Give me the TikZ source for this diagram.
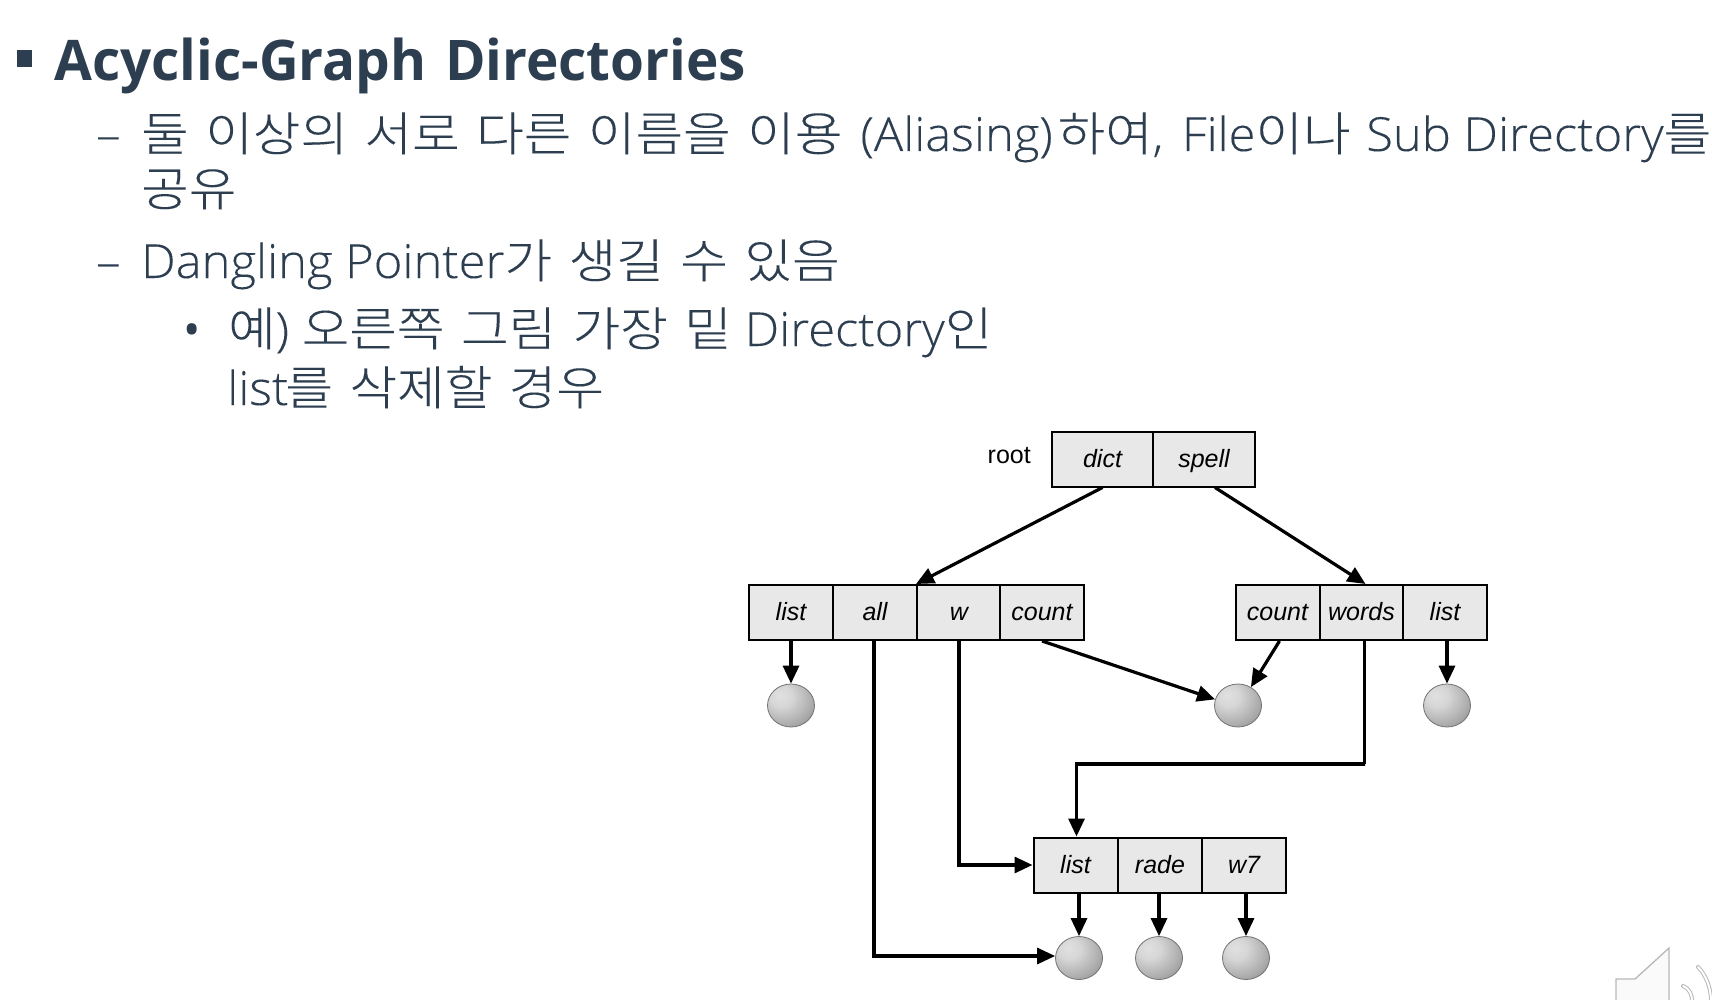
\documentclass[tikz,border=0pt]{standalone}
\usepackage{fontspec}
\usetikzlibrary{arrows.meta,shapes.geometric}
\setmainfont{Liberation Sans}
\newfontfamily\headlat[FakeStretch=0.98,WordSpace=1.3]{Open Sans}
\newfontfamily\bodylat[FakeStretch=1.04,FakeBold=0.15]{Open Sans Light}
\newfontfamily\bodykr[FakeStretch=1.1,WordSpace=1.45,FakeBold=0.15]{Noto Sans CJK KR Light}
\definecolor{slate}{HTML}{2C3E50}
\newcommand{\kr}[1]{{\bodykr #1}}
\pgfdeclareradialshading{fileshade}{\pgfpoint{-12bp}{12bp}}{%
  color(0bp)=(black!12); color(12bp)=(black!16); color(30bp)=(black!32); color(50bp)=(black!52); color(100bp)=(black!58)}
\begin{document}
\begin{tikzpicture}[x=1pt, y=-1pt,
  cell/.style={draw, line width=2pt, fill=black!9, minimum width=84pt, minimum height=55pt,
    inner sep=0pt, text height=19pt, text depth=3pt, font=\fontsize{25}{27}\selectfont\itshape},
  ball/.style={ellipse, draw=black!55, line width=0.8pt, minimum width=47pt, minimum height=43pt,
    inner sep=0pt, shading=fileshade},
  arr/.style={line width=3.2pt, -{Triangle[length=18pt, width=16pt]}},
  head/.style={anchor=base west, inner sep=0pt, text=slate, font=\headlat\bfseries\fontsize{56}{60}\selectfont},
  body/.style={anchor=base west, inner sep=0pt, text=slate, font=\bodylat\fontsize{47}{50}\selectfont},
  spk/.style={draw=black!28, line width=1.3pt, fill=black!2}
]
  \useasboundingbox (0,0) rectangle (1712,1000);

  % text
  \fill[slate] (16.5,50) rectangle (32,67);
  \node[head] (title) at (54,81) {Acyclic-Graph Directories};
  \node[body] (dash1) at (96,151) {–};
  \node[body] (line1) at (141,151) {\kr{둘 이상의 서로 다른 이름을 이용}\kern5.5pt{} (Aliasing)\kern5pt\kr{하여},\kern6pt{} File\kr{이나}\kern3pt{} Sub Directory\kr{를}};
  \node[body] (line2) at (141,206) {\kr{공유}};
  \node[body] (dash2) at (96,278) {–};
  \node[body] (line3) at (141,278) {Dangling Pointer\kr{가 생길 수 있음}};
  \node[body, font=\headlat\fontsize{47}{50}\selectfont] (dot) at (183,346) {•};
  \node[body] (line4) at (228,346) {\kr{예}) \kr{오른쪽 그림 가장 밑} Directory\kr{인}};
  \node[body] (line5) at (227,405) {list\kern-3pt\kr{를 삭제할 경우}};

  % root
  \node[anchor=east, inner sep=0pt, font=\fontsize{25}{27}\selectfont] (root) at (1031,456) {root};
  \node[cell, minimum width=101.6pt] (dict) at (1102.5,459) {dict};
  \node[cell, minimum width=101.6pt] (spell) at (1204,459) {spell};

  % left dir
  \node[cell] (list1) at (791,612.5) {list};
  \node[cell] (all) at (875,612.5) {all};
  \node[cell] (w) at (959,612.5) {w};
  \node[cell] (count1) at (1042,612.5) {count};

  % right dir
  \node[cell] (count2) at (1277.5,612.5) {count};
  \node[cell] (words) at (1361.5,612.5) {words};
  \node[cell] (list2) at (1445,612.5) {list};

  % bottom dir
  \node[cell] (list3) at (1075.5,865) {list};
  \node[cell] (rade) at (1160,865) {rade};
  \node[cell] (w7) at (1244,865) {w7};

  % files
  \node[ball] (f1) at (791,705.5) {};
  \node[ball] (f2) at (1238,705.5) {};
  \node[ball] (f3) at (1447,705.5) {};
  \node[ball] (f4) at (1079,958) {};
  \node[ball] (f5) at (1159,958) {};
  \node[ball] (f6) at (1246,958) {};

  \coordinate (bend) at (1365,764);

  \draw[arr] (dict.south) -- (w.north west);
  \draw[arr] ([xshift=11pt]spell.south) -- ([xshift=4pt]words.north);
  \draw[arr] (list1.south) -- (f1.north);
  \draw[arr] (count1.south) -- (f2.165);
  \draw[arr] ([xshift=2pt]count2.south) -- (f2.55);
  \draw[arr] (f3 |- list2.south) -- (f3.north);
  \draw[arr] ([xshift=3pt]words.south) |- (bend) -| ([xshift=1pt]list3.north);
  \draw[arr] ([xshift=-1pt]all.south) |- ([yshift=2pt]f4.west);
  \draw[arr] (w.south) |- (list3.west);
  \draw[arr] (f4 |- list3.south) -- (f4.north);
  \draw[arr] (f5 |- rade.south) -- (f5.north);
  \draw[arr] (f6 |- w7.south) -- (f6.north);

  % speaker
  \draw[spk] (1616,1001) -- (1616,979) -- (1635,979) -- (1669,948) -- (1669,1001);
  \draw[black!28, line width=4pt, line cap=round] (1683,986) .. controls (1690,989) and (1692,995) .. (1692,1001);
  \draw[white, line width=2pt, line cap=round] (1683,986) .. controls (1690,989) and (1692,995) .. (1692,1001);
  \draw[black!28, line width=4pt, line cap=round] (1698,967) .. controls (1706,975) and (1711,988) .. (1711,1001);
  \draw[white, line width=2pt, line cap=round] (1698,967) .. controls (1706,975) and (1711,988) .. (1711,1001);
\end{tikzpicture}
\end{document}
